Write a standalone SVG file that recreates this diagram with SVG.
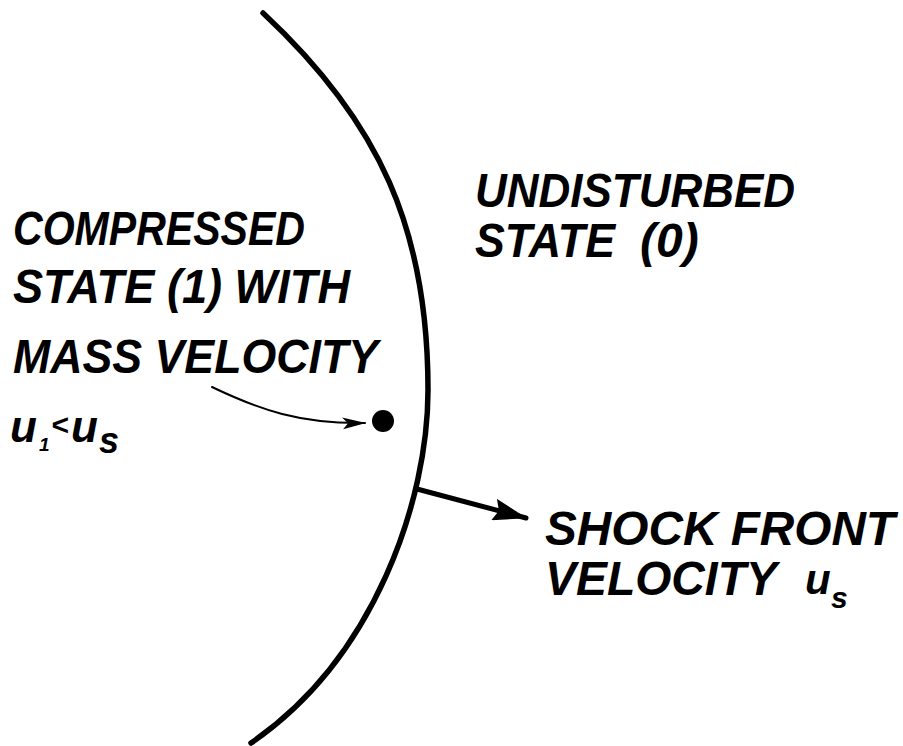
<svg xmlns="http://www.w3.org/2000/svg" width="903" height="746" viewBox="0 0 903 746">
<style>
.lbl{font-family:"Liberation Sans",Arial,sans-serif;font-weight:bold;font-style:italic;font-size:48px;fill:#000}
.sub{font-family:"Liberation Sans",Arial,sans-serif;font-weight:bold;font-style:italic;fill:#000}
.front{fill:none;stroke:#000;stroke-width:5.5;stroke-linecap:round}
.thin{fill:none;stroke:#000;stroke-width:2;stroke-linecap:round}
.thick{fill:none;stroke:#000;stroke-width:5;stroke-linecap:round}
</style>
<defs>
<marker id="headBig" viewBox="0 0 34 22" refX="33" refY="11" markerWidth="34" markerHeight="22" markerUnits="userSpaceOnUse" orient="auto">
<path d="M0,0 L34,11 L0,22 L5,11 Z" fill="#000"/>
</marker>
<marker id="headSmall" viewBox="0 0 24 14" refX="23" refY="7" markerWidth="24" markerHeight="14" markerUnits="userSpaceOnUse" orient="auto">
<path d="M0,1 L24,7 L1,13 L6,7 Z" fill="#000"/>
</marker>
</defs>
<rect width="903" height="746" fill="#fff"/>
<g id="shock-front">
<path class="front" d="M263,13 C380,122 428,230 428,390 C428,500 375,658 251,743"/>
</g>
<g id="particle">
<circle cx="383" cy="421" r="11" fill="#000"/>
</g>
<g id="connectors">
<path class="thin" d="M212,387 C260,410 300,424 365,423" marker-end="url(#headSmall)"/>
<path class="thick" d="M417,489 L526,518" marker-end="url(#headBig)"/>
</g>
<g id="compressed-label">
<text class="lbl" x="13" y="245" textLength="292" lengthAdjust="spacingAndGlyphs">COMPRESSED</text>
<text class="lbl" x="13" y="303" textLength="337" lengthAdjust="spacingAndGlyphs">STATE (1) WITH</text>
<text class="lbl" x="13" y="373" textLength="365" lengthAdjust="spacingAndGlyphs">MASS VELOCITY</text>
<text class="sub" x="10" y="442" font-size="44">u</text>
<text class="sub" x="39" y="451" font-size="19">1</text>
<text class="sub" x="51" y="435" font-size="30">&lt;</text>
<text class="sub" x="71" y="442" font-size="44">u</text>
<text class="sub" x="99" y="453" font-size="36">s</text>
</g>
<g id="undisturbed-label">
<text class="lbl" x="475" y="207" textLength="320" lengthAdjust="spacingAndGlyphs">UNDISTURBED</text>
<text class="lbl" x="475" y="257" textLength="140" lengthAdjust="spacingAndGlyphs">STATE</text>
<text class="lbl" x="640" y="257">(0)</text>
</g>
<g id="velocity-label">
<text class="lbl" x="545" y="545" textLength="350" lengthAdjust="spacingAndGlyphs">SHOCK FRONT</text>
<text class="lbl" x="545" y="595" textLength="232" lengthAdjust="spacingAndGlyphs">VELOCITY</text>
<text class="sub" x="805" y="594" font-size="42">u</text>
<text class="sub" x="831" y="608" font-size="30">s</text>
</g>
</svg>
